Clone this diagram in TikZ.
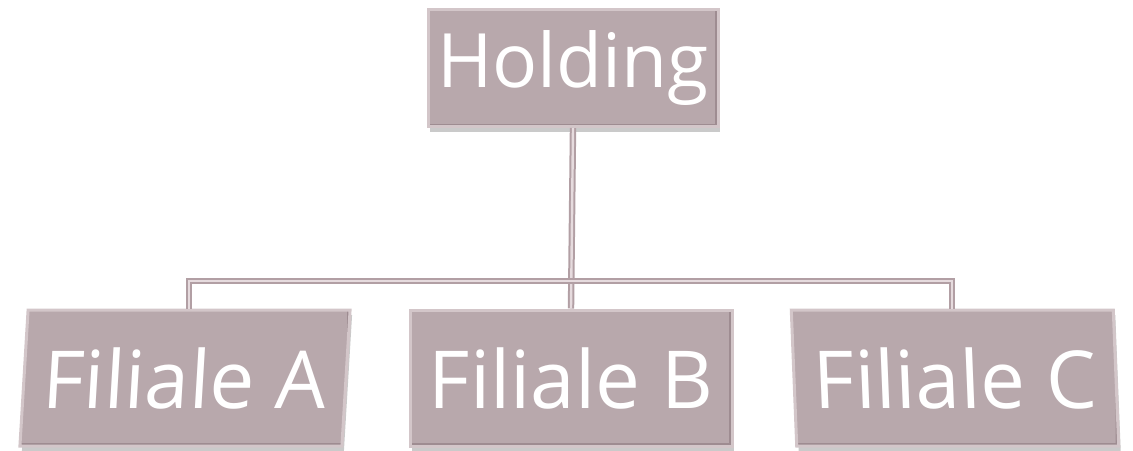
\documentclass[tikz,border=0pt]{standalone}
\usepackage{fontspec}
\setmainfont{Open Sans}
\usetikzlibrary{shadows}
\definecolor{boxfill}{HTML}{B8A8AC}
\definecolor{boxlight}{HTML}{D3C6C9}
\definecolor{boxdark}{HTML}{9E8C91}
\definecolor{linkcol}{HTML}{B29FA4}
\definecolor{linkmid}{HTML}{E6DBDE}

\begin{document}
\begin{tikzpicture}[x=1pt,y=-1pt]
        \tikzset{unit/.style={fill=boxfill,draw=boxlight,line width=3pt,text=white,
                font=\fontsize{80}{84}\selectfont,inner sep=0pt,
                drop shadow={shadow xshift=2pt,shadow yshift=-5pt,opacity=.35,fill=black!60},
                path picture={\draw[boxdark,line width=6pt]
                    (path picture bounding box.north east) -- (path picture bounding box.south east)
                    -- (path picture bounding box.south west);}},
            top/.style={unit,minimum width=290pt,minimum height=117pt,
                font=\fontsize{75}{80}\selectfont},
            branch/.style={unit,minimum width=322pt,minimum height=136pt},
            link/.style={draw=linkcol,line width=2pt,double=linkmid,double distance=2.4pt}}
        \useasboundingbox (0,0) rectangle (1133,450);
        \node[top] (hold) at (573,68) {Holding};
        \begin{scope}[shift={(185,378)},xslant=.06]
            \node[branch,transform shape] (fa) at (0,0) {Filiale A};
        \end{scope}
        \node[branch] (fb) at (571,378) {Filiale B};
        \begin{scope}[shift={(955,378)},xslant=-.04]
            \node[branch,transform shape] (fc) at (0,0) {Filiale C};
        \end{scope}
        \coordinate (bus) at (573,281);
        \draw[link] (hold.south) -- (fb.north);
        \draw[link] (fa.north) -- (fa.north |- bus) -- (fc.north |- bus) -- (fc.north);
    \end{tikzpicture}
\end{document}
